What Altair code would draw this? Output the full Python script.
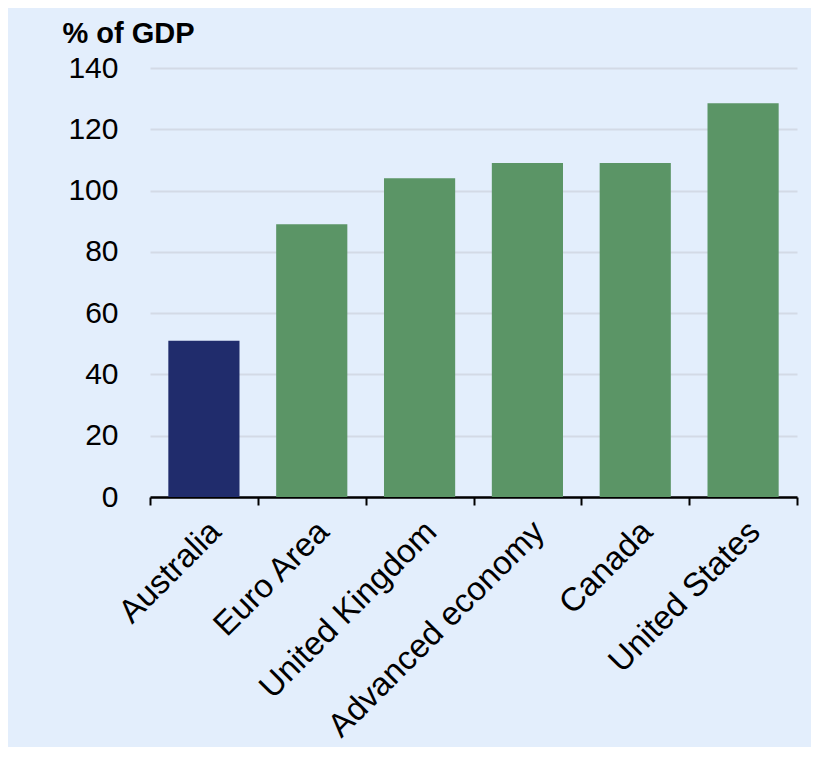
import altair as alt
import pandas as pd

categories = ["Australia", "Euro Area", "United Kingdom", "Advanced economy", "Canada", "United States"]
values = [51, 89, 104, 109, 109, 128.5]
groups = ["Australia", "Other", "Other", "Other", "Other", "Other"]
y_ticks = [0, 20, 40, 60, 80, 100, 120, 140]

df = pd.DataFrame({"country": categories, "debt": values, "group": groups})

BG = "#e3eefc"
FONT = "Liberation Sans"

chart = (
    alt.Chart(df)
    .mark_bar(width=alt.RelativeBandSize(0.66))
    .encode(
        x=alt.X(
            "country:N",
            sort=categories,
            scale=alt.Scale(paddingInner=0, paddingOuter=0),
            axis=alt.Axis(
                title=None,
                labelAngle=-45,
                labelAlign="right",
                labelBaseline="top",
                labelFontSize=33,
                labelFont=FONT,
                labelColor="#000000",
                labelPadding=10,
                labelLimit=0,
                tickBand="extent",
                ticks=True,
                tickSize=8,
                tickWidth=2,
                tickColor="#000000",
                domainColor="#000000",
                domainWidth=2.5,
                grid=False,
            ),
        ),
        y=alt.Y(
            "debt:Q",
            scale=alt.Scale(domain=[0, 140], nice=False),
            axis=alt.Axis(
                values=y_ticks,
                title="% of GDP",
                titleAngle=0,
                titleAlign="left",
                titleBaseline="alphabetic",
                titleX=-88,
                titleY=-26,
                titleFont=FONT,
                titleFontSize=29,
                titleFontWeight="bold",
                titleColor="#000000",
                labelFont=FONT,
                labelFontSize=30,
                labelColor="#000000",
                labelPadding=32,
                ticks=False,
                tickSize=0,
                domain=False,
                grid=True,
                gridColor="#d3dae6",
                gridWidth=2,
            ),
        ),
        color=alt.Color(
            "group:N",
            scale=alt.Scale(domain=["Australia", "Other"], range=["#202c6c", "#5b9566"]),
            legend=None,
        ),
    )
    .properties(
        width=647,
        height=429,
        background=BG,
        padding={"left": 142, "top": 60, "right": 14, "bottom": 250},
        autosize=alt.AutoSizeParams(type="none"),
    )
    .configure_view(stroke=None)
)

chart.save("out.html", embed_options={"renderer": "svg", "actions": False})
